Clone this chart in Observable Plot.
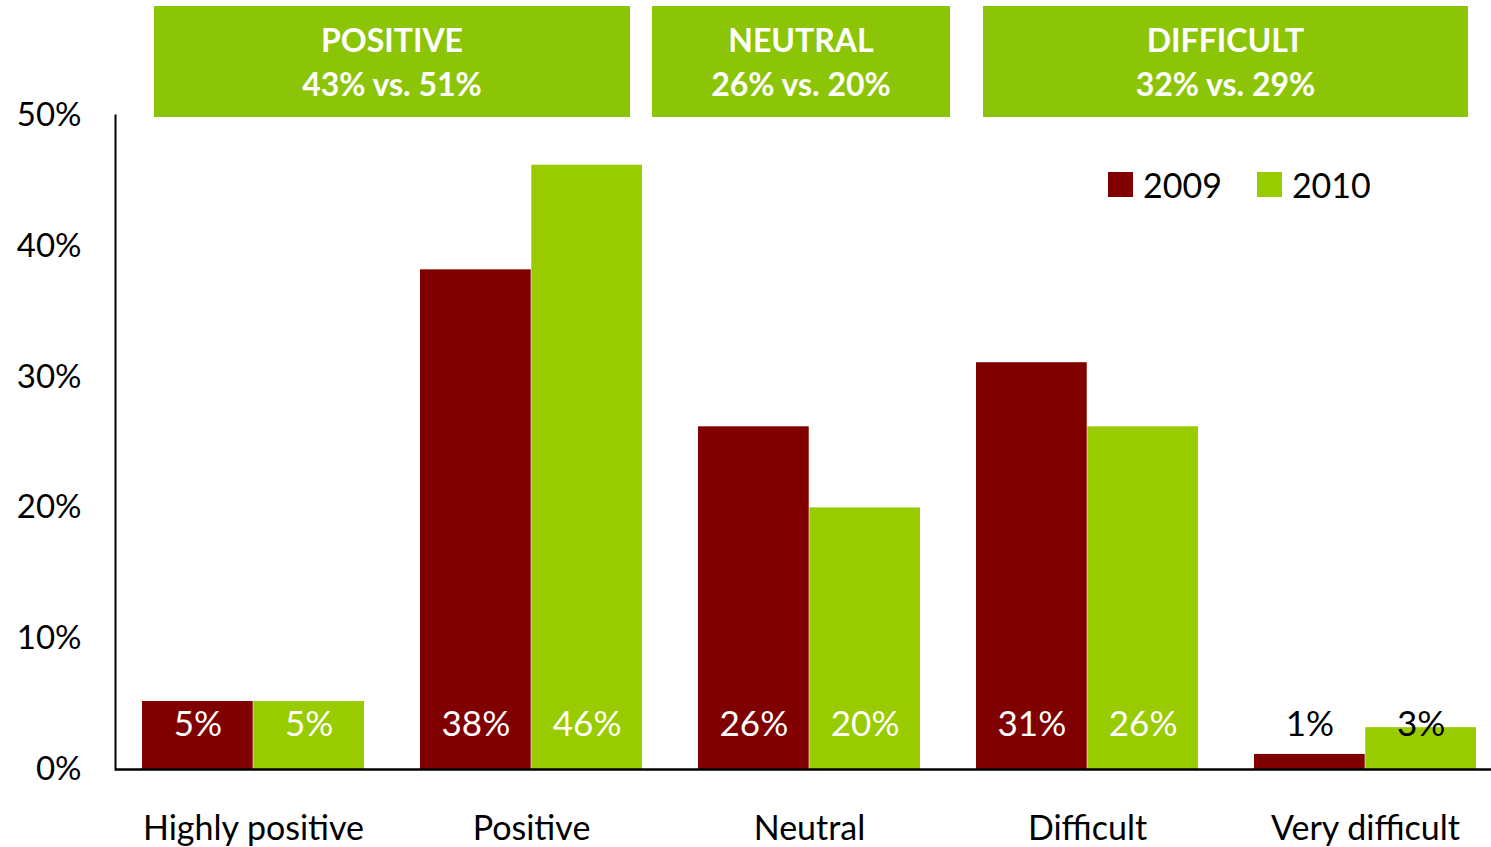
<!DOCTYPE html>
<html>
<head>
<meta charset="utf-8">
<script src="https://cdn.jsdelivr.net/npm/d3@7"></script>
<script src="https://cdn.jsdelivr.net/npm/@observablehq/plot@0.6"></script>
<style>
  html, body { margin: 0; padding: 0; background: #fff; }
  #wrap { position: relative; width: 1491px; height: 847px; font-family: Lato, "Open Sans", sans-serif; }
  .hdr { position: absolute; top: 6px; height: 111px; background: #8cc508; color: #fff; font-weight: 700;
         font-size: 32px; text-align: center; display: flex; flex-direction: column; justify-content: center; line-height: 44px; }
  .legend { position: absolute; top: 164px; left: 1108px; display: flex; align-items: center; font-size: 34px; color: #000; }
  .legend .sw { width: 25px; height: 25px; display: inline-block; margin-right: 10px; }
  .legend .item { display: flex; align-items: center; margin-right: 35px; }
</style>
</head>
<body>
<div id="wrap"></div>
<script>
const categories = ["Highly positive", "Positive", "Neutral", "Difficult", "Very difficult"];
const years = ["2009", "2010"];
const values2009 = [5.2, 38.2, 26.2, 31.1, 1.15];
const values2010 = [5.2, 46.2, 20.0, 26.2, 3.2];
const yTicks = [0, 10, 20, 30, 40, 50];
const colors = ["#800000", "#99cc00"];
const groupNames = ["POSITIVE", "NEUTRAL", "DIFFICULT"];
const groupValues = ["43% vs. 51%", "26% vs. 20%", "32% vs. 29%"];
const groupBoxes = [[154, 476], [652, 298], [983, 485]];

const d2009 = categories.map((c, i) => ({category: c, year: "2009", value: values2009[i]}));
const d2010 = categories.map((c, i) => ({category: c, year: "2010", value: values2010[i]}));

const band = 0.8 * 278.2;
const half = band / 2;
const labelFill = d => d.category === "Very difficult" ? "#000" : "#fff";

const chart = Plot.plot({
  width: 1491,
  height: 847,
  marginTop: 115,
  marginBottom: 78,
  marginLeft: 115,
  marginRight: 0,
  style: {fontFamily: "Lato, 'Open Sans', sans-serif", background: "#fff", overflow: "visible"},
  x: {domain: categories, range: [113.5, 1504.5], paddingInner: 0.2, paddingOuter: 0.1, label: null},
  y: {domain: [0, 50], label: null},
  marks: [
    Plot.barY(d2009, {x: "category", y: "value", fill: colors[0], insetRight: half, insetLeft: 0}),
    Plot.barY(d2010, {x: "category", y: "value", fill: colors[1], insetLeft: half, insetRight: 0}),
    Plot.text(d2009, {x: "category", frameAnchor: "bottom", dy: -34, dx: -half / 2, text: d => Math.round(d.value) + "%", fill: labelFill, fontSize: 35}),
    Plot.text(d2010, {x: "category", frameAnchor: "bottom", dy: -34, dx: half / 2, text: d => Math.round(d.value) + "%", fill: labelFill, fontSize: 35}),
    Plot.axisY({ticks: yTicks, tickFormat: d => d + "%", tickSize: 0, tickPadding: 34, fontSize: 33, label: null, fill: "#000"}),
    Plot.axisX({tickSize: 0, tickPadding: 46, fontSize: 34, label: null, fill: "#000"}),
    Plot.frame({anchor: "left", stroke: "#000", strokeWidth: 2}),
    Plot.ruleY([0], {stroke: "#000", strokeWidth: 2.5})
  ]
});

const wrap = document.getElementById("wrap");
wrap.appendChild(chart);

groupNames.forEach((g, i) => {
  const div = document.createElement("div");
  div.className = "hdr";
  div.style.left = groupBoxes[i][0] + "px";
  div.style.width = groupBoxes[i][1] + "px";
  div.innerHTML = `<div>${g}</div><div>${groupValues[i]}</div>`;
  wrap.appendChild(div);
});

const legend = document.createElement("div");
legend.className = "legend";
years.forEach((y, i) => {
  const item = document.createElement("div");
  item.className = "item";
  item.innerHTML = `<span class="sw" style="background:${colors[i]}"></span><span>${y}</span>`;
  legend.appendChild(item);
});
wrap.appendChild(legend);
</script>
</body>
</html>
